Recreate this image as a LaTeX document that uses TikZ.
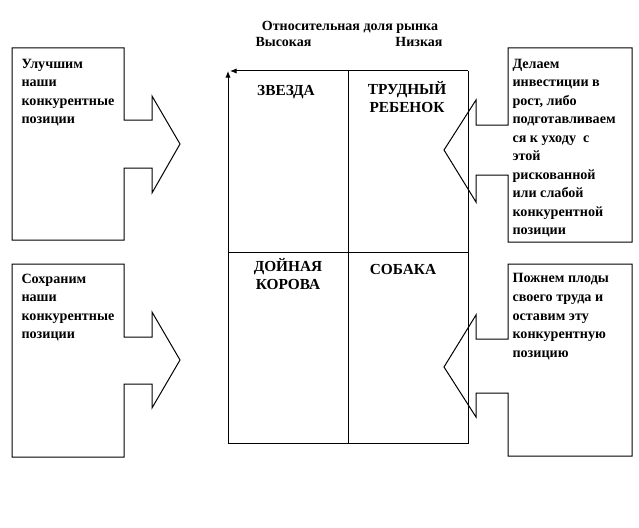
\documentclass[tikz,border=0pt]{standalone}
\usepackage{fontspec}
\setmainfont{Liberation Serif}
\usetikzlibrary{arrows.meta}

\tikzset{every picture/.style={line width=0.75pt}}
\tikzset{
  boxtext/.style={anchor=base west, inner sep=0pt, align=left, font=\bfseries\fontsize{10.6}{13.9}\selectfont},
  celltext/.style={anchor=base, inner sep=0pt, align=center, font=\bfseries\fontsize{11.5}{13.5}\selectfont},
  headtext/.style={inner sep=0pt, font=\bfseries\fontsize{10.5}{12}\selectfont},
  axis/.style={-{Latex[length=5pt,width=4pt]}}
}

\begin{document}
\begin{tikzpicture}[x=0.75pt,y=0.75pt,yscale=-1,xscale=1]
\useasboundingbox (0,0) rectangle (639,528);

%Shape: Left top callout
\draw   (12,48) -- (124,48) -- (124,120) -- (152,120) -- (152,96) -- (180,144) -- (152,193) -- (152,168) -- (124,168) -- (124,240) -- (12,240) -- cycle ;
%Shape: Left bottom callout
\draw   (12,264) -- (124,264) -- (124,337) -- (152,337) -- (152,312) -- (180,360) -- (152,408) -- (152,384) -- (124,384) -- (124,457) -- (12,457) -- cycle ;
%Shape: Right top callout
\draw   (632,48) -- (508,48) -- (508,125) -- (476,125) -- (476,100) -- (444,150) -- (476,202) -- (476,175) -- (508,175) -- (508,242) -- (632,242) -- cycle ;
%Shape: Right bottom callout
\draw   (632,264) -- (508,264) -- (508,339) -- (476,339) -- (476,315) -- (444,367) -- (476,417) -- (476,393) -- (508,393) -- (508,456) -- (632,456) -- cycle ;

%Matrix
\coordinate (origin) at (228,443);
\coordinate (top) at (228,71);
\coordinate (corner) at (468,71);
\coordinate (right) at (468,443);
\draw [axis] (origin) -- (top) ;
\draw [axis] (corner) -- (230,71) ;
\draw    (corner) -- (right) -- (origin) ;
\draw    (348,71) -- (348,443) ;
\draw    (228,252) -- (468,252) ;

% Text Node
\node [headtext, anchor=base] (share) at (350,31) {Относительная доля рынка};
\node [headtext, anchor=base west] (high) at (255,47) {Высокая};
\node [headtext, anchor=base east] (low) at (443,47) {Низкая};

% Text Node (base = last line)
\node [celltext] (star) at (286,96) {ЗВЕЗДА};
\node [celltext] (child) at (407,113) {ТРУДНЫЙ\\РЕБЕНОК};
\node [celltext] (cow) at (288,289) {ДОЙНАЯ\\КОРОВА};
\node [celltext] (dog) at (403,274) {СОБАКА};

% Text Node (base = last line)
\node [boxtext] (improve) at (21,123.6) {Улучшим\\наши\\конкурентные\\позиции};
\node [boxtext] (keep) at (21,338.6) {Сохраним\\наши\\конкурентные\\позиции};
\node [boxtext] (invest) at (512,234.8) {Делаем\\инвестиции в\\рост, либо\\подготавливаем\\ся к уходу~ с\\этой\\рискованной\\или слабой\\конкурентной\\позиции};
\node [boxtext] (harvest) at (512,357.1) {Пожнем плоды\\своего труда и\\оставим эту\\конкурентную\\позицию};

\end{tikzpicture}
\end{document}
